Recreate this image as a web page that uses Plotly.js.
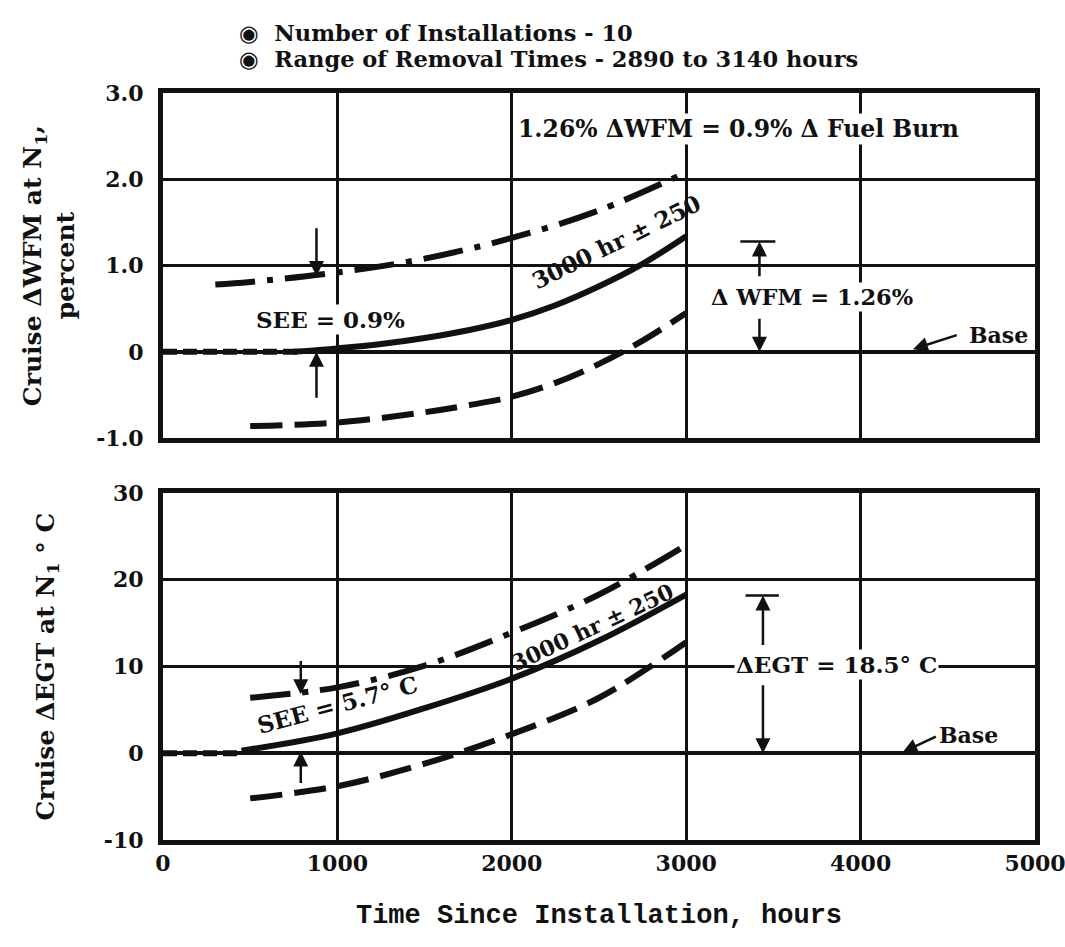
<!DOCTYPE html>
<html>
<head>
<meta charset="utf-8">
<script src="https://cdn.plot.ly/plotly-3.0.1.min.js"></script>
<style>html,body{margin:0;padding:0;background:#fff;}</style>
</head>
<body>
<div id="chart" style="width:1065px;height:947px;"></div>
<script>
// ---- data ----
const xTicks = [0, 1000, 2000, 3000, 4000, 5000];
const xTickText = ['0', '1000', '2000', '3000', '4000', '5000'];
const wfmTicks = [-1, 0, 1, 2, 3];
const wfmTickText = ['-1.0', '0', '1.0', '2.0', '3.0'];
const egtTicks = [-10, 0, 10, 20, 30];
const egtTickText = ['-10', '0', '10', '20', '30'];

// top panel: Cruise ΔWFM (percent)
const wfmUpperX = [300, 500, 1000, 1500, 2000, 2500, 3000];
const wfmUpperY = [0.78, 0.81, 0.92, 1.08, 1.32, 1.64, 2.08];
const wfmBaseX = [0, 800];
const wfmBaseY = [0, 0];
const wfmMeanX = [750, 1000, 1250, 1500, 1750, 2000, 2250, 2500, 2750, 3000];
const wfmMeanY = [0.0, 0.04, 0.09, 0.16, 0.25, 0.37, 0.54, 0.76, 1.02, 1.34];
const wfmLowerX = [500, 1000, 1500, 1750, 2000, 2250, 2500, 2750, 3000];
const wfmLowerY = [-0.86, -0.82, -0.70, -0.62, -0.52, -0.36, -0.14, 0.13, 0.45];

// bottom panel: Cruise ΔEGT (deg C)
const egtUpperX = [500, 1000, 1500, 2000, 2500, 3000];
const egtUpperY = [6.4, 7.6, 10.1, 13.9, 18.3, 24.0];
const egtBaseX = [0, 450];
const egtBaseY = [0, 0];
const egtMeanX = [450, 1000, 1500, 2000, 2500, 3000];
const egtMeanY = [0.3, 2.3, 5.2, 8.6, 13.0, 18.3];
const egtLowerX = [500, 1000, 1500, 2000, 2500, 3000];
const egtLowerY = [-5.2, -3.8, -1.2, 2.2, 6.4, 12.8];

const FONT = 'DejaVu Serif, Liberation Serif, serif';
const MONO = 'Liberation Mono, DejaVu Sans Mono, monospace';
const BLACK = '#111';

function line(x, y, xa, ya, dash, w) {
  return {x: x, y: y, xaxis: xa, yaxis: ya, type: 'scatter', mode: 'lines',
          line: {color: BLACK, width: w || 6, dash: dash, shape: 'spline', smoothing: 1},
          hoverinfo: 'skip'};
}
const DASHDOT = '40px,12px,6px,12px';
const DASHED = '32px,12px';
const SHORTDASH = '14px,6px';

const traces = [
  line(wfmUpperX, wfmUpperY, 'x', 'y', DASHDOT),
  line(wfmBaseX, wfmBaseY, 'x', 'y', SHORTDASH),
  line(wfmMeanX, wfmMeanY, 'x', 'y', 'solid'),
  line(wfmLowerX, wfmLowerY, 'x', 'y', DASHED),
  line(egtUpperX, egtUpperY, 'x2', 'y2', DASHDOT),
  line(egtBaseX, egtBaseY, 'x2', 'y2', SHORTDASH),
  line(egtMeanX, egtMeanY, 'x2', 'y2', 'solid'),
  line(egtLowerX, egtLowerY, 'x2', 'y2', DASHED)
];

const tickFont = {family: FONT, size: 22, color: BLACK, weight: 'bold'};
const axisCommon = {
  showgrid: true, gridcolor: BLACK, gridwidth: 3,
  showline: true, mirror: true, linecolor: BLACK, linewidth: 5,
  ticks: '', tickfont: tickFont, fixedrange: true, ticklabeloverflow: 'allow'
};

function txt(text, x, y, xref, yref, size, extra) {
  return Object.assign({text: text, x: x, y: y, xref: xref, yref: yref, showarrow: false,
    font: {family: FONT, size: size, color: BLACK, weight: 'bold'}}, extra || {});
}
function arrow(x, y, ax, ay, xref, yref, head) {
  return {text: '', x: x, y: y, ax: ax, ay: ay, xref: xref, yref: yref, axref: xref, ayref: yref,
    showarrow: true, arrowhead: head === undefined ? 2 : head, arrowsize: 1.2, arrowwidth: 2.5, arrowcolor: BLACK};
}

const annotations = [
  txt('◉  Number of Installations - 10', 0.085, 1.100, 'paper', 'paper', 22.5, {xanchor: 'left'}),
  txt('◉  Range of Removal Times - 2890 to 3140 hours', 0.085, 1.066, 'paper', 'paper', 22.5, {xanchor: 'left'}),
  // top panel
  txt('1.26% ΔWFM = 0.9% Δ Fuel Burn', 3300, 2.58, 'x', 'y', 23.5, {bgcolor: '#fff'}),
  txt('SEE = 0.9%', 960, 0.37, 'x', 'y', 23, {bgcolor: '#fff'}),
  txt('3000 hr ± 250', 2600, 1.28, 'x', 'y', 23, {textangle: -26}),
  txt('Δ WFM = 1.26%', 3720, 0.64, 'x', 'y', 22.5, {bgcolor: '#fff'}),
  txt('Base', 4790, 0.2, 'x', 'y', 22, {bgcolor: '#fff'}),
  arrow(880, 0.88, 880, 1.45, 'x', 'y'),
  arrow(880, 0.0, 880, -0.55, 'x', 'y'),
  arrow(3420, 1.28, 3420, 0.86, 'x', 'y'),
  arrow(3420, 0.0, 3420, 0.40, 'x', 'y'),
  arrow(3310, 1.28, 3520, 1.28, 'x', 'y', 0),
  arrow(4300, 0.03, 4560, 0.2, 'x', 'y'),
  // bottom panel
  txt('SEE = 5.7° C', 1000, 5.6, 'x2', 'y2', 23, {textangle: -15}),
  txt('3000 hr ± 250', 2460, 14.6, 'x2', 'y2', 22, {textangle: -25}),
  txt('ΔEGT = 18.5° C', 3860, 10.2, 'x2', 'y2', 23, {bgcolor: '#fff'}),
  txt('Base', 4620, 2.1, 'x2', 'y2', 22, {bgcolor: '#fff'}),
  arrow(790, 6.8, 790, 10.8, 'x2', 'y2'),
  arrow(790, 0.2, 790, -3.6, 'x2', 'y2'),
  arrow(3440, 18.2, 3440, 12.3, 'x2', 'y2'),
  arrow(3440, 0.0, 3440, 8.0, 'x2', 'y2'),
  arrow(3340, 18.2, 3540, 18.2, 'x2', 'y2', 0),
  arrow(4240, 0.1, 4440, 2.0, 'x2', 'y2')
];

const layout = {
  width: 1065, height: 947,
  margin: {l: 163, r: 30, t: 93, b: 107},
  paper_bgcolor: '#fff', plot_bgcolor: '#fff',
  showlegend: false,
  font: {family: FONT, color: BLACK},
  xaxis: Object.assign({}, axisCommon, {domain: [0, 1], anchor: 'y', range: [0, 5000],
    tickvals: xTicks, ticktext: xTickText, showticklabels: false, zeroline: false}),
  yaxis: Object.assign({}, axisCommon, {domain: [0.538, 1], anchor: 'x', range: [-1, 3],
    tickvals: wfmTicks, ticktext: wfmTickText, zeroline: true, zerolinecolor: BLACK, zerolinewidth: 4,
    ticklabelstandoff: 10,
    title: {text: 'Cruise ΔWFM at N<sub>1</sub>,<br>percent', standoff: 16,
            font: {family: FONT, size: 25, color: BLACK, weight: 'bold'}}}),
  xaxis2: Object.assign({}, axisCommon, {domain: [0, 1], anchor: 'y2', range: [0, 5000], matches: 'x',
    tickvals: xTicks, ticktext: xTickText, zeroline: false,
    title: {text: 'Time Since Installation, hours', standoff: 30,
            font: {family: MONO, size: 27, color: BLACK, weight: 'bold'}}}),
  yaxis2: Object.assign({}, axisCommon, {domain: [0, 0.4645], anchor: 'x2', range: [-10, 30],
    tickvals: egtTicks, ticktext: egtTickText, zeroline: true, zerolinecolor: BLACK, zerolinewidth: 4,
    ticklabelstandoff: 10,
    title: {text: 'Cruise ΔEGT at N<sub>1</sub> ° C', standoff: 44,
            font: {family: FONT, size: 25, color: BLACK, weight: 'bold'}}}),
  annotations: annotations
};

Plotly.newPlot('chart', traces, layout, {displayModeBar: false, staticPlot: true});
</script>
</body>
</html>
